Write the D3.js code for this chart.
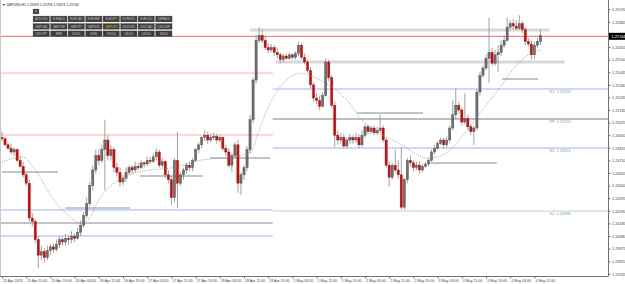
<!DOCTYPE html>
<html>
<head>
<meta charset="utf-8">
<script src="https://cdnjs.cloudflare.com/ajax/libs/d3/7.8.5/d3.min.js"></script>
<style>
  body { margin: 0; background: #fff; }
  svg { display: block; }
  text { font-family: "Liberation Sans", Arial, sans-serif; }
</style>
</head>
<body>
<div id="chart"></div>
<script>
// GBPUSD H1, 25 Apr 2023 03:00 .. 4 May 2023 12:00 (bar index 0..178)
var opens = [1.2490,1.2489,1.2484,1.2481,1.2478,1.2480,1.2471,1.2466,1.2459,1.2452,
  1.2423,1.2420,1.2405,1.2392,1.2395,1.2390,1.2396,1.2399,1.2397,1.2401,
  1.2405,1.2403,1.2406,1.2405,1.2408,1.2406,1.2411,1.2417,1.2425,1.2435,
  1.2450,1.2463,1.2475,1.2471,1.2480,1.2488,1.2475,1.2480,1.2465,1.2461,
  1.2453,1.2456,1.2461,1.2465,1.2463,1.2466,1.2465,1.2469,1.2468,1.2471,
  1.2470,1.2474,1.2478,1.2467,1.2470,1.2459,1.2455,1.2440,1.2471,1.2452,
  1.2459,1.2463,1.2467,1.2465,1.2471,1.2480,1.2484,1.2490,1.2492,1.2488,
  1.2490,1.2491,1.2488,1.2490,1.2481,1.2478,1.2467,1.2475,1.2484,1.2452,
  1.2459,1.2465,1.2480,1.2505,1.2538,1.2571,1.2575,1.2571,1.2565,1.2563,
  1.2565,1.2561,1.2559,1.2555,1.2558,1.2556,1.2559,1.2557,1.2560,1.2567,
  1.2557,1.2553,1.2546,1.2534,1.2523,1.2521,1.2516,1.2525,1.2553,1.2540,
  1.2517,1.2492,1.2488,1.2490,1.2483,1.2488,1.2490,1.2488,1.2490,1.2484,
  1.2492,1.2499,1.2495,1.2498,1.2494,1.2496,1.2498,1.2488,1.2467,1.2457,
  1.2467,1.2463,1.2459,1.2432,1.2455,1.2471,1.2469,1.2465,1.2467,1.2463,
  1.2466,1.2468,1.2471,1.2478,1.2481,1.2485,1.2488,1.2484,1.2488,1.2498,
  1.2509,1.2517,1.2513,1.2503,1.2506,1.2499,1.2495,1.2498,1.2528,1.2542,
  1.2548,1.2556,1.2561,1.2552,1.2559,1.2561,1.2567,1.2571,1.2582,1.2585,
  1.2583,1.2581,1.2585,1.2580,1.2570,1.2568,1.2559,1.2567,1.2570];
var highs = [1.2495,1.2491,1.2486,1.2485,1.2482,1.2481,1.2475,1.2470,1.2461,1.2455,
  1.2427,1.2422,1.2408,1.2400,1.2398,1.2400,1.2401,1.2402,1.2405,1.2408,
  1.2407,1.2410,1.2409,1.2412,1.2410,1.2415,1.2421,1.2428,1.2440,1.2453,
  1.2467,1.2480,1.2480,1.2484,1.2505,1.2492,1.2484,1.2482,1.2469,1.2465,
  1.2459,1.2465,1.2467,1.2467,1.2470,1.2469,1.2471,1.2470,1.2474,1.2474,
  1.2477,1.2481,1.2480,1.2473,1.2471,1.2463,1.2458,1.2473,1.2495,1.2461,
  1.2465,1.2469,1.2470,1.2473,1.2481,1.2486,1.2491,1.2496,1.2495,1.2493,
  1.2494,1.2493,1.2492,1.2491,1.2484,1.2481,1.2477,1.2486,1.2488,1.2461,
  1.2467,1.2483,1.2509,1.2540,1.2575,1.2582,1.2580,1.2575,1.2569,1.2568,
  1.2567,1.2565,1.2561,1.2560,1.2560,1.2561,1.2560,1.2562,1.2570,1.2569,
  1.2560,1.2555,1.2549,1.2536,1.2527,1.2525,1.2528,1.2556,1.2555,1.2542,
  1.2520,1.2496,1.2494,1.2493,1.2490,1.2493,1.2492,1.2494,1.2493,1.2496,
  1.2501,1.2501,1.2500,1.2500,1.2499,1.2509,1.2500,1.2490,1.2470,1.2469,
  1.2480,1.2471,1.2482,1.2456,1.2473,1.2475,1.2471,1.2470,1.2470,1.2468,
  1.2470,1.2473,1.2480,1.2484,1.2487,1.2490,1.2490,1.2491,1.2500,1.2521,
  1.2531,1.2520,1.2515,1.2527,1.2509,1.2501,1.2500,1.2530,1.2545,1.2550,
  1.2559,1.2590,1.2565,1.2563,1.2567,1.2571,1.2575,1.2590,1.2588,1.2589,
  1.2588,1.2592,1.2587,1.2582,1.2573,1.2571,1.2570,1.2573,1.2580];
var lows = [1.2487,1.2483,1.2480,1.2476,1.2475,1.2470,1.2465,1.2457,1.2450,1.2420,
  1.2416,1.2402,1.2381,1.2388,1.2386,1.2388,1.2392,1.2394,1.2395,1.2398,
  1.2400,1.2400,1.2401,1.2402,1.2403,1.2405,1.2408,1.2415,1.2423,1.2433,
  1.2446,1.2460,1.2467,1.2469,1.2446,1.2471,1.2471,1.2461,1.2458,1.2449,
  1.2450,1.2453,1.2459,1.2460,1.2461,1.2463,1.2464,1.2465,1.2466,1.2468,
  1.2469,1.2471,1.2465,1.2465,1.2456,1.2452,1.2434,1.2436,1.2431,1.2450,
  1.2455,1.2460,1.2462,1.2462,1.2470,1.2477,1.2481,1.2487,1.2485,1.2486,
  1.2488,1.2485,1.2486,1.2479,1.2475,1.2465,1.2461,1.2473,1.2444,1.2442,
  1.2455,1.2462,1.2477,1.2502,1.2535,1.2569,1.2569,1.2563,1.2560,1.2561,
  1.2558,1.2556,1.2552,1.2553,1.2555,1.2555,1.2555,1.2555,1.2558,1.2555,
  1.2551,1.2544,1.2531,1.2520,1.2518,1.2513,1.2515,1.2524,1.2537,1.2515,
  1.2482,1.2484,1.2485,1.2481,1.2481,1.2485,1.2485,1.2486,1.2481,1.2482,
  1.2490,1.2493,1.2493,1.2492,1.2492,1.2494,1.2486,1.2465,1.2449,1.2455,
  1.2461,1.2456,1.2430,1.2430,1.2452,1.2466,1.2462,1.2463,1.2460,1.2461,
  1.2465,1.2466,1.2470,1.2476,1.2480,1.2484,1.2481,1.2482,1.2486,1.2496,
  1.2506,1.2510,1.2500,1.2501,1.2496,1.2492,1.2484,1.2496,1.2525,1.2540,
  1.2546,1.2536,1.2550,1.2550,1.2545,1.2558,1.2565,1.2570,1.2580,1.2580,
  1.2580,1.2580,1.2577,1.2567,1.2566,1.2555,1.2556,1.2565,1.2567];
var closes = [1.2489,1.2484,1.2481,1.2478,1.2480,1.2471,1.2466,1.2459,1.2452,1.2423,
  1.2420,1.2405,1.2392,1.2395,1.2390,1.2396,1.2399,1.2397,1.2401,1.2405,
  1.2403,1.2406,1.2405,1.2408,1.2406,1.2411,1.2417,1.2425,1.2435,1.2450,
  1.2463,1.2475,1.2471,1.2480,1.2488,1.2475,1.2480,1.2465,1.2461,1.2453,
  1.2456,1.2461,1.2465,1.2463,1.2466,1.2465,1.2469,1.2468,1.2471,1.2470,
  1.2474,1.2478,1.2467,1.2470,1.2459,1.2455,1.2440,1.2471,1.2452,1.2459,
  1.2463,1.2467,1.2465,1.2471,1.2480,1.2484,1.2490,1.2492,1.2488,1.2490,
  1.2491,1.2488,1.2490,1.2481,1.2478,1.2467,1.2475,1.2484,1.2452,1.2459,
  1.2465,1.2480,1.2505,1.2538,1.2571,1.2575,1.2571,1.2565,1.2563,1.2565,
  1.2561,1.2559,1.2555,1.2558,1.2556,1.2559,1.2557,1.2560,1.2567,1.2557,
  1.2553,1.2546,1.2534,1.2523,1.2521,1.2516,1.2525,1.2553,1.2540,1.2517,
  1.2492,1.2488,1.2490,1.2483,1.2488,1.2490,1.2488,1.2490,1.2484,1.2492,
  1.2499,1.2495,1.2498,1.2494,1.2496,1.2498,1.2488,1.2467,1.2457,1.2467,
  1.2463,1.2459,1.2432,1.2455,1.2471,1.2469,1.2465,1.2467,1.2463,1.2466,
  1.2468,1.2471,1.2478,1.2481,1.2485,1.2488,1.2484,1.2488,1.2498,1.2509,
  1.2517,1.2513,1.2503,1.2506,1.2499,1.2495,1.2498,1.2528,1.2542,1.2548,
  1.2556,1.2561,1.2552,1.2559,1.2561,1.2567,1.2571,1.2582,1.2585,1.2583,
  1.2581,1.2585,1.2580,1.2570,1.2568,1.2559,1.2567,1.2570,1.2575];

// moving average: [bar, price]
var maPoints = [[0,1.24697],[7,1.24738],[11,1.24630],[16,1.24422],[21,1.24272],[26,1.24188],
  [29,1.24230],[32,1.24380],[36,1.24497],[41,1.24580],[49,1.24630],[56,1.24647],[66,1.24713],
  [76,1.24738],[82,1.24772],[85,1.24963],[88,1.25155],[92,1.25322],[99,1.25438],[102,1.25413],
  [107,1.25355],[114,1.25213],[119,1.25047],[131,1.24855],[141,1.24730],[147,1.24772],
  [152,1.24905],[158,1.25105],[164,1.25297],[168,1.25438],[175,1.25605],[178,1.25630]];

var timeBars = [0,8,16,24,32,40,48,56,64,72,80,88,96,104,112,120,128,136,144,152,160,168,176];
var timeLabels = ["25 Apr 2023","25 Apr 11:00","25 Apr 19:00","26 Apr 03:00","26 Apr 11:00","26 Apr 19:00",
  "27 Apr 03:00","27 Apr 11:00","27 Apr 19:00","28 Apr 03:00","28 Apr 11:00","28 Apr 19:00",
  "1 May 03:00","1 May 11:00","1 May 19:00","2 May 03:00","2 May 11:00","2 May 19:00",
  "3 May 03:00","3 May 11:00","3 May 19:00","4 May 03:00","4 May 11:00"];
var priceTicks = [1.25970,1.25865,1.25760,1.25655,1.25550,1.25445,1.25340,1.25235,1.25130,1.25025,
  1.24920,1.24815,1.24710,1.24605,1.24500,1.24395,1.24290,1.24185,1.24080,1.23975,1.23870,1.23765];

var bidPrice = 1.25744;
var headerText = "\u25BC GBPUSD,H1  1.25699 1.25796 1.25674 1.25744";

// today's pivots (right part) and yesterday's levels (left part)
var pivotNames = ["R1","PP","S1","S2"];
var pivotValues = [1.25305, 1.25055, 1.24813, 1.24288];
var pivotFrom = 89.5;
var prevLevels = [1.25438, 1.24922, 1.24297, 1.24188, 1.24080];
var prevKinds = ["r","r","b","g","b"];
// grey zones: [price, fromBar, toBar]
var zones = [[1.25797, 82, 181], [1.25530, 90.5, 186]];
// short session lines: [price, fromBar, toBar]
var sessionLines = [[1.24613,0,18.5],[1.24313,21,42.3],[1.24580,45.6,66.4],[1.24730,68.8,88.6],
  [1.25105,117.4,139.2],[1.24688,141.5,163.6],[1.25388,165.3,177.2]];

var symbols = [["AUDUSD","EURAUD","EURCAD","EURGBP","EURJPY","EURNZD","EURUSD","GBPAUD"],
  ["GBPCAD","GBPCHF","GBPJPY","GBPNZD","GBPUSD","NZDUSD","USDCAD","USDCHF"],
  ["USDJPY","BRN","GOLD","DE30","UK100","US100","US500","WS30"]];

var width = 625, height = 284;
var plotRight = 608, plotBottom = 276;

var x = d3.scaleLinear().domain([0, 200]).range([2, 2 + 200 * 3.025]);
var y = d3.scaleLinear().domain([1.260467, 1.237467]).range([0, 276]);

var svg = d3.select('#chart').append('svg')
  .attr('width', width)
  .attr('height', height);

svg.append('rect').attr('width', width).attr('height', height).attr('fill', '#fff');

var plot = svg.append('g');

// levels from the previous day
var prevColor = { r: '#f4b2ad', b: '#9db4ea', g: '#8c8c8c' };
plot.selectAll('line.prev').data(prevLevels).enter().append('line')
  .attr('class', 'prev')
  .attr('x1', 0).attr('x2', x(pivotFrom))
  .attr('y1', function (d) { return y(d); })
  .attr('y2', function (d) { return y(d); })
  .attr('stroke', function (d, i) { return prevColor[prevKinds[i]]; })
  .attr('stroke-width', 1);

// pivots
plot.selectAll('line.pivot').data(pivotValues).enter().append('line')
  .attr('class', 'pivot')
  .attr('x1', x(pivotFrom)).attr('x2', plotRight)
  .attr('y1', function (d) { return y(d); })
  .attr('y2', function (d) { return y(d); })
  .attr('stroke', function (d, i) { return i == 1 ? '#a8a8a8' : (i == 3 ? '#b9d4ea' : '#9db4ea'); })
  .attr('stroke-width', function (d, i) { return i == 1 ? 1.6 : 1; });

plot.selectAll('text.pivot').data(pivotValues).enter().append('text')
  .attr('class', 'pivot')
  .attr('x', x(181))
  .attr('y', function (d) { return y(d) + 4.2; })
  .attr('font-size', 3.9)
  .attr('fill', '#8a97a8')
  .text(function (d, i) { return pivotNames[i] + ': ' + d.toFixed(5); });

// grey zones
plot.selectAll('line.zone').data(zones).enter().append('line')
  .attr('class', 'zone')
  .attr('x1', function (d) { return x(d[1]); })
  .attr('x2', function (d) { return x(d[2]); })
  .attr('y1', function (d) { return y(d[0]); })
  .attr('y2', function (d) { return y(d[0]); })
  .attr('stroke', '#d8d8d8')
  .attr('stroke-width', 3);

// session lines
plot.selectAll('line.sess').data(sessionLines).enter().append('line')
  .attr('class', 'sess')
  .attr('x1', function (d) { return x(d[1]); })
  .attr('x2', function (d) { return x(d[2]); })
  .attr('y1', function (d) { return y(d[0]); })
  .attr('y2', function (d) { return y(d[0]); })
  .attr('stroke', function (d, i) { return i == 1 ? '#aab6c4' : '#7d8c9c'; })
  .attr('stroke-width', function (d, i) { return i == 1 ? 1.5 : 1; });

// bid line
plot.append('line')
  .attr('x1', 0).attr('x2', plotRight)
  .attr('y1', y(bidPrice)).attr('y2', y(bidPrice))
  .attr('stroke', '#ef6b6b').attr('stroke-width', 1);

// candles
var bars = closes.map(function (c, i) {
  return { i: i, o: opens[i], h: highs[i], l: lows[i], c: c };
});

plot.selectAll('line.wick').data(bars).enter().append('line')
  .attr('class', 'wick')
  .attr('x1', function (d) { return x(d.i); })
  .attr('x2', function (d) { return x(d.i); })
  .attr('y1', function (d) { return y(d.h); })
  .attr('y2', function (d) { return y(d.l); })
  .attr('stroke', '#8a8a8a')
  .attr('stroke-width', 0.8);

plot.selectAll('rect.body').data(bars).enter().append('rect')
  .attr('class', 'body')
  .attr('x', function (d) { return x(d.i) - 1.1; })
  .attr('width', 2.2)
  .attr('y', function (d) { return y(Math.max(d.o, d.c)); })
  .attr('height', function (d) { return Math.max(0.8, Math.abs(y(d.o) - y(d.c))); })
  .attr('fill', function (d) { return d.c < d.o ? '#e60000' : '#6e6e6e'; })
  .attr('stroke', function (d) { return d.c < d.o ? '#7a2020' : '#4a4a4a'; })
  .attr('stroke-width', 0.4);

// moving average (dotted)
var maLine = d3.line()
  .x(function (d) { return x(d[0]); })
  .y(function (d) { return y(d[1]); })
  .curve(d3.curveMonotoneX);

plot.append('path')
  .attr('d', maLine(maPoints))
  .attr('fill', 'none')
  .attr('stroke', '#8c8c8c')
  .attr('stroke-width', 0.8)
  .attr('stroke-dasharray', '1,1.3');

// frame
svg.append('line').attr('x1', plotRight + 0.5).attr('x2', plotRight + 0.5)
  .attr('y1', 0).attr('y2', plotBottom).attr('stroke', '#707070');
svg.append('line').attr('x1', 0).attr('x2', plotRight + 0.5)
  .attr('y1', plotBottom + 0.5).attr('y2', plotBottom + 0.5).attr('stroke', '#707070');
svg.append('line').attr('x1', 0.5).attr('x2', 0.5)
  .attr('y1', 0).attr('y2', plotBottom).attr('stroke', '#c8c8c8');

// price axis
var shownTicks = priceTicks.filter(function (p) { return Math.abs(y(p) - y(bidPrice)) > 5; });
var yAxis = d3.axisRight(y).tickValues(shownTicks).tickSize(2).tickSizeOuter(0)
  .tickFormat(d3.format('.5f'));
var ya = svg.append('g').attr('transform', 'translate(' + (plotRight + 0.5) + ',0)').call(yAxis);
ya.select('.domain').remove();
ya.selectAll('line').attr('stroke', '#707070');
ya.selectAll('text').attr('font-size', 3.8).attr('fill', '#444').attr('x', 3.5)
  .attr('font-family', '"Liberation Sans", Arial, sans-serif');

// bid tag
svg.append('rect').attr('x', plotRight + 1).attr('y', y(bidPrice) - 3.5)
  .attr('width', width - plotRight - 1).attr('height', 7).attr('fill', '#000');
svg.append('text').attr('x', plotRight + 3.5).attr('y', y(bidPrice) + 1.4)
  .attr('font-size', 3.8).attr('fill', '#fff').text(bidPrice.toFixed(5));

// time axis
var xAxis = d3.axisBottom(x).tickValues(timeBars).tickSize(2).tickSizeOuter(0)
  .tickFormat(function (d, i) { return timeLabels[i]; });
var xa = svg.append('g').attr('transform', 'translate(0,' + (plotBottom + 0.5) + ')').call(xAxis);
xa.select('.domain').remove();
xa.selectAll('line').attr('stroke', '#707070');
xa.selectAll('text').attr('font-size', 3.6).attr('fill', '#444')
  .attr('text-anchor', 'start').attr('dx', 0.5).attr('y', 3)
  .attr('font-family', '"Liberation Sans", Arial, sans-serif');

// header
svg.append('text').attr('x', 2).attr('y', 5.5).attr('font-size', 3.4).attr('fill', '#222')
  .text(headerText);

// symbol buttons
var panel = svg.append('g');
panel.append('rect').attr('x', 33).attr('y', 9).attr('width', 6).attr('height', 5)
  .attr('fill', '#3a3a3a').attr('stroke', '#888').attr('stroke-width', 0.3);
panel.append('text').attr('x', 36).attr('y', 12.8).attr('text-anchor', 'middle')
  .attr('font-size', 3.4).attr('fill', '#ddd').text('F');

symbols.forEach(function (row, r) {
  row.forEach(function (s, c) {
    var bx = 33 + c * 17.5, by = 16 + r * 7.4;
    panel.append('rect').attr('x', bx).attr('y', by).attr('width', 16.6).attr('height', 6)
      .attr('fill', '#3c3c3c').attr('stroke', '#8a8a8a').attr('stroke-width', 0.3);
    panel.append('text').attr('x', bx + 8.3).attr('y', by + 4.1).attr('text-anchor', 'middle')
      .attr('font-size', 3).attr('fill', s == 'GBPUSD' ? '#e0b400' : '#c8c8c8').text(s);
  });
});
</script>
</body>
</html>
